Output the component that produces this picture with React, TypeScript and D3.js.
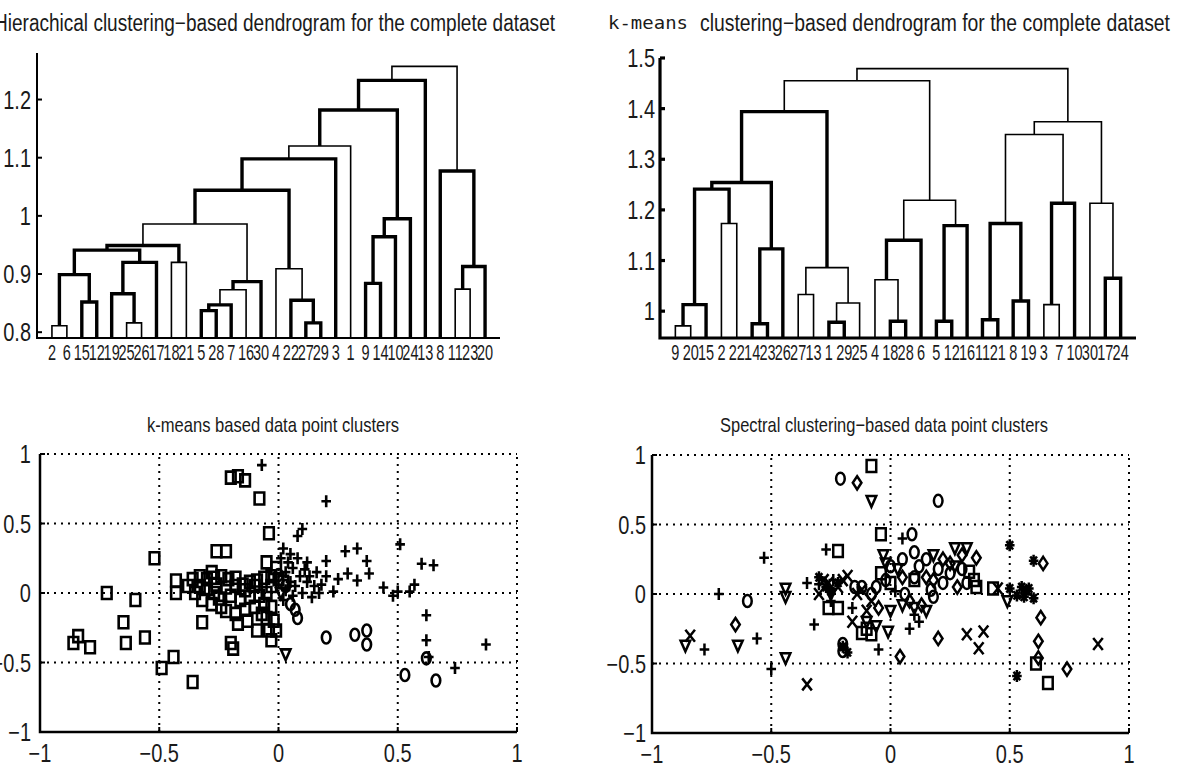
import React, { useEffect, useRef } from "react";
import * as d3 from "d3";

const sans = "'Liberation Sans', Arial, sans-serif";
const mono = "'DejaVu Sans Mono', 'Liberation Mono', monospace";

// titles
const hierTitle = "Hierachical clustering\u2212based dendrogram for the complete dataset";
const kmTitleLead = "k-means";
const kmTitleRest = "clustering\u2212based dendrogram for the complete dataset";
const kmScatterTitle = "k-means based data point clusters";
const spScatterTitle = "Spectral clustering\u2212based data point clusters";

// tick values
const hierTicks = [0.8, 0.9, 1, 1.1, 1.2];
const kmTicks = [1, 1.1, 1.2, 1.3, 1.4, 1.5];
const scatterTicks = [-1, -0.5, 0, 0.5, 1];
const gridTicks = [-0.5, 0, 0.5, 1];

// hierarchical dendrogram: leaf order + linkage rows [a, b, height]
// ids 1-30 are leaves, 31+ are the merges in row order (matlab style)
const hierLeafOrder = [2, 6, 15, 12, 19, 25, 26, 17, 18, 21, 5, 28, 7, 16, 30, 4, 22, 27, 29, 3, 1, 9, 14, 10, 24, 13, 8, 11, 23, 20];
const hierLinkage = [
  [2, 6, 0.811], [25, 26, 0.816], [27, 29, 0.816], [5, 28, 0.837], [34, 7, 0.847],
  [15, 12, 0.852], [22, 33, 0.855], [19, 32, 0.866], [35, 16, 0.873], [9, 14, 0.884],
  [39, 30, 0.887], [11, 23, 0.874], [31, 36, 0.899], [4, 37, 0.909], [42, 20, 0.913],
  [38, 17, 0.92], [18, 21, 0.92], [43, 46, 0.941], [48, 47, 0.949], [40, 10, 0.964],
  [49, 41, 0.986], [50, 24, 0.995], [51, 44, 1.044], [8, 45, 1.077], [53, 3, 1.098],
  [55, 1, 1.12], [56, 52, 1.182], [57, 13, 1.233], [58, 54, 1.257],
];
const hierBold = [33, 34, 35, 36, 37, 38, 40, 41, 43, 45, 46, 48, 49, 50, 52, 53, 54, 55, 57, 58];

// k-means dendrogram
const kmLeafOrder = [9, 20, 15, 2, 22, 14, 23, 26, 27, 13, 1, 29, 25, 4, 18, 28, 6, 5, 12, 16, 11, 21, 8, 19, 3, 7, 10, 30, 17, 24];
const kmLinkage = [
  [9, 20, 0.971], [31, 15, 1.013], [2, 22, 1.173], [32, 33, 1.241], [14, 23, 0.975],
  [35, 26, 1.123], [34, 36, 1.254], [27, 13, 1.033], [1, 29, 0.978], [39, 25, 1.016],
  [38, 40, 1.086], [37, 41, 1.394], [18, 28, 0.98], [4, 43, 1.062], [44, 6, 1.14],
  [5, 12, 0.98], [46, 16, 1.169], [45, 47, 1.219], [42, 48, 1.455], [11, 21, 0.983],
  [8, 19, 1.02], [50, 51, 1.173], [3, 7, 1.013], [53, 10, 1.213], [52, 54, 1.349],
  [17, 24, 1.065], [30, 56, 1.213], [55, 57, 1.374], [49, 58, 1.479],
];
const kmBold = [32, 34, 35, 36, 37, 39, 42, 43, 45, 46, 47, 50, 51, 52, 54, 56];

// k-means scatter clusters [x, y]
const kmSquares = [
  [-0.84, -0.31], [-0.86, -0.36], [-0.79, -0.39], [-0.72, 0.0], [-0.6, -0.05], [-0.65, -0.21],
  [-0.64, -0.36], [-0.56, -0.32], [-0.52, 0.25], [-0.49, -0.54], [-0.44, -0.46], [-0.36, -0.64],
  [-0.43, 0.09], [-0.43, 0.0], [-0.36, 0.1], [-0.33, 0.12], [-0.3, 0.1], [-0.27, 0.11],
  [-0.24, 0.12], [-0.21, 0.1], [-0.18, 0.11], [-0.33, 0.05], [-0.3, 0.03], [-0.26, 0.06],
  [-0.22, 0.04], [-0.18, 0.05], [-0.15, 0.06], [-0.12, 0.08], [-0.09, 0.09], [-0.06, 0.11],
  [-0.03, 0.12], [-0.32, -0.05], [-0.28, -0.08], [-0.25, -0.04], [-0.2, -0.02], [-0.16, -0.05],
  [-0.12, -0.03], [-0.08, -0.02], [-0.05, 0.0], [-0.03, 0.05], [-0.22, -0.13], [-0.18, -0.15],
  [-0.14, -0.12], [-0.1, -0.1], [-0.06, -0.08], [-0.03, -0.1], [-0.17, -0.22], [-0.05, -0.18],
  [-0.02, -0.2], [-0.32, -0.21], [-0.2, -0.36], [-0.19, -0.4], [-0.09, -0.27], [-0.04, -0.27],
  [-0.01, -0.27], [-0.03, -0.34], [-0.04, 0.43], [-0.26, 0.3], [-0.22, 0.3], [-0.08, 0.68],
  [-0.2, 0.83], [-0.14, 0.81], [-0.17, 0.84], [-0.01, 0.18], [-0.05, 0.22], [0.0, 0.1], [0.02, 0.08],
  [-0.35, 0.0], [-0.27, 0.0], [-0.24, -0.1], [-0.14, 0.02], [-0.1, 0.05], [-0.07, -0.15],
  [-0.13, -0.2], [-0.28, 0.15], [-0.38, 0.05],
];
const kmPluses = [
  [-0.07, 0.92], [0.2, 0.66], [0.08, 0.41], [0.1, 0.46], [0.02, 0.32], [0.05, 0.28], [0.28, 0.3],
  [0.33, 0.32], [0.37, 0.23], [0.2, 0.23], [0.51, 0.35], [0.6, 0.21], [0.65, 0.2], [0.29, 0.14],
  [0.33, 0.09], [0.23, 0.01], [0.44, 0.04], [0.5, 0.01], [0.55, 0.01], [0.57, 0.06], [0.62, -0.16],
  [0.62, -0.34], [0.87, -0.37], [0.74, -0.54], [0.63, -0.46], [0.03, 0.15], [0.06, 0.18], [0.09, 0.12],
  [0.12, 0.08], [0.15, 0.05], [0.03, 0.02], [0.07, 0.05], [0.1, 0.0], [0.14, -0.03], [0.18, 0.06],
  [0.01, 0.25], [0.04, 0.22], [0.12, 0.22], [0.16, 0.15], [0.38, 0.14], [0.48, -0.02], [0.25, 0.1],
  [0.02, -0.05], [0.06, -0.02], [0.13, 0.12], [0.08, 0.25], [0.11, 0.17], [0.17, 0.0], [0.2, 0.12],
  [0.05, 0.08],
];
const kmCircles = [
  [0.08, -0.18], [0.07, -0.12], [0.2, -0.32], [0.32, -0.3], [0.37, -0.27], [0.37, -0.37],
  [0.53, -0.59], [0.66, -0.63], [0.62, -0.47], [0.05, -0.08], [0.03, 0.05], [0.0, 0.13],
];
const kmTriangles = [[0.03, -0.44], [0.01, 0.0]];

// spectral scatter clusters [x, y]
const spPluses = [
  [-0.72, 0.0], [-0.56, -0.32], [-0.78, -0.4], [-0.5, -0.54], [-0.53, 0.26], [-0.27, 0.32],
  [0.05, 0.4], [-0.32, -0.22], [-0.3, 0.07], [-0.24, 0.1], [-0.16, -0.1], [0.08, -0.25],
  [0.1, -0.15], [-0.05, -0.4], [-0.35, 0.08], [0.02, 0.02], [-0.25, -0.05], [0.12, -0.2],
];
const spCrosses = [
  [-0.84, -0.3], [-0.35, -0.65], [0.32, -0.29], [0.39, -0.27], [0.37, -0.39], [0.87, -0.36],
  [-0.18, 0.13], [-0.28, 0.1], [-0.22, 0.05], [-0.12, 0.03], [-0.1, -0.12], [0.45, 0.04], [-0.16, -0.2],
  [-0.26, 0.08], [-0.2, 0.1], [-0.14, 0.0], [-0.08, -0.05], [-0.3, 0.0],
];
const spStars = [
  [0.5, 0.35], [0.6, 0.24], [0.53, -0.59], [0.5, 0.04], [0.53, -0.01], [0.57, 0.02], [0.55, 0.05],
  [0.6, -0.03], [-0.27, 0.05], [-0.25, 0.02], [-0.2, -0.38], [-0.3, 0.12], [-0.22, 0.08],
  [-0.18, -0.42], [0.56, -0.02], [0.58, 0.04],
];
const spCircles = [
  [-0.21, 0.83], [0.2, 0.67], [0.09, 0.43], [-0.6, -0.05], [-0.2, -0.36], [-0.2, -0.41], [0.1, 0.3],
  [0.05, 0.25], [0.12, 0.2], [0.2, 0.18], [0.25, 0.15], [0.3, 0.18], [0.22, 0.08], [-0.02, 0.1],
  [-0.06, 0.05], [0.06, 0.0], [-0.12, 0.05], [0.17, 0.03], [-0.15, 0.05], [0.0, 0.2], [0.15, 0.25],
  [0.18, -0.02], [0.32, 0.08], [-0.08, 0.0], [0.1, 0.12],
];
const spDiamonds = [
  [-0.14, 0.8], [0.64, 0.22], [0.36, 0.26], [-0.65, -0.22], [0.04, -0.45], [0.2, -0.32], [0.63, -0.17],
  [0.62, -0.34], [0.62, -0.46], [0.74, -0.54], [0.15, 0.12], [0.22, 0.25], [0.08, -0.05], [0.13, -0.08],
  [0.28, 0.05], [0.05, 0.12], [0.25, 0.22], [0.3, 0.28], [0.18, 0.1], [-0.05, -0.1],
];
const spTriangles = [
  [-0.08, 0.67], [0.27, 0.33], [0.32, 0.33], [-0.64, -0.37], [-0.86, -0.37], [-0.44, -0.46],
  [-0.44, 0.04], [-0.44, -0.02], [-0.06, -0.23], [-0.01, -0.27], [0.49, -0.05], [-0.02, 0.22],
  [0.03, 0.18], [0.1, -0.1], [0.0, -0.12], [0.18, 0.28], [-0.25, 0.0], [-0.1, -0.2], [0.05, -0.08],
  [0.15, -0.12], [0.27, 0.2], [-0.03, 0.28],
];
const spSquares = [
  [-0.08, 0.92], [-0.04, 0.43], [-0.22, 0.31], [-0.08, -0.29], [0.61, -0.5], [0.66, -0.64],
  [0.43, 0.04], [-0.26, -0.1], [-0.04, 0.15], [0.0, 0.08], [0.35, 0.1], [0.33, 0.16], [-0.1, -0.25],
  [-0.22, -0.1], [-0.12, -0.28], [0.1, 0.1], [0.36, 0.05],
];

const fmt = (v: number) => String(v).replace("-", "\u2212");

const markerPath = (type: string, r: number) => {
  const w = r * 0.8;
  switch (type) {
    case "square": return `M${-w},${-r}H${w}V${r}H${-w}Z`;
    case "plus": return `M${-w},0H${w}M0,${-r}V${r}`;
    case "x": return `M${-w},${-r}L${w},${r}M${-w},${r}L${w},${-r}`;
    case "star": {
      const d = r * 0.7;
      return `M${-w},0H${w}M0,${-r}V${r}M${-d * 0.8},${-d}L${d * 0.8},${d}M${-d * 0.8},${d}L${d * 0.8},${-d}`;
    }
    case "circle": {
      const rx = r * 0.72;
      return `M${-rx},0A${rx},${r} 0 1,0 ${rx},0A${rx},${r} 0 1,0 ${-rx},0Z`;
    }
    case "diamond": return `M0,${-r * 1.1}L${w * 0.9},0L0,${r * 1.1}L${-w * 0.9},0Z`;
    case "triangle": return `M${-w},${-r * 0.8}H${w}L0,${r}Z`;
    default: return "";
  }
};

const App = () => {
  const ref = useRef<SVGSVGElement | null>(null);

  const renderGraph = () => {
    const svg = d3.select(ref.current);
    svg.selectAll("*").remove();

    svg.append("rect").attr("width", 1181).attr("height", 767).attr("fill", "#fff");

    // narrow helvetica look: regular sans squeezed horizontally
    const squeezed = (sel: any, size: number, anchor: string, sx: number) =>
      sel.attr("text-anchor", anchor)
        .attr("font-family", sans).attr("font-size", size).attr("fill", "#1a1a1a")
        .attr("transform", `scale(${sx},1)`);

    const drawDendrogram = (order: number[], linkage: number[][], bold: number[],
      xr: number[], yDomain: number[], yRange: number[], ticks: number[], axisW: number, labelAt: number) => {
      const x = d3.scaleLinear().domain([0, order.length + 1]).range(xr);
      const y = d3.scaleLinear().domain(yDomain).range(yRange);
      const nodeX = new Map<number, number>();
      const nodeY = new Map<number, number>();
      order.forEach((leaf, i) => { nodeX.set(leaf, x(i + 1)); nodeY.set(leaf, yRange[0]); });

      const g = svg.append("g");
      linkage.forEach(([a, b, h], k) => {
        const id = order.length + 1 + k;
        const xa = nodeX.get(a)!, xb = nodeX.get(b)!;
        const yh = y(h);
        nodeX.set(id, (xa + xb) / 2);
        nodeY.set(id, yh);
        g.append("path")
          .attr("d", `M${xa},${nodeY.get(a)}V${yh}H${xb}V${nodeY.get(b)}`)
          .attr("fill", "none")
          .attr("stroke", "#000")
          .attr("stroke-width", bold.includes(id) ? 3.4 : 1.6);
      });

      // axes
      g.append("path").attr("d", `M${xr[0]},${yRange[1]}V${yRange[0]}H${xr[1]}`)
        .attr("fill", "none").attr("stroke", "#000").attr("stroke-width", axisW);
      g.selectAll(".ytick").data(ticks).join("line")
        .attr("x1", xr[0]).attr("x2", xr[0] + 5)
        .attr("y1", d => y(d)).attr("y2", d => y(d))
        .attr("stroke", "#000").attr("stroke-width", axisW);

      const yl = g.selectAll(".ylab").data(ticks).join("g")
        .attr("transform", d => `translate(${labelAt},${y(d) + 9})`);
      squeezed(yl.append("text"), 25, "end", 0.8).text((d: number) => fmt(d));

      const ll = g.selectAll(".leaf").data(order).join("g")
        .attr("transform", (d, i) => `translate(${x(i + 1)},${yRange[0] + 22})`);
      squeezed(ll.append("text"), 22, "middle", 0.66).text((d: number) => d);
    };

    const drawScatter = (series: [string, number[][]][], xr: number[], yr: number[],
      r: number, sw: number, labelAt: number) => {
      const x = d3.scaleLinear().domain([-1, 1]).range(xr);
      const y = d3.scaleLinear().domain([-1, 1]).range(yr);
      const g = svg.append("g");

      // dotted grid
      g.selectAll(".gx").data(gridTicks).join("line")
        .attr("x1", d => x(d)).attr("x2", d => x(d)).attr("y1", yr[0]).attr("y2", yr[1])
        .attr("stroke", "#000").attr("stroke-width", 2).attr("stroke-dasharray", "2,5");
      g.selectAll(".gy").data(gridTicks.map(d => -d + 0.5)).join("line")
        .attr("x1", xr[0]).attr("x2", xr[1]).attr("y1", d => y(d)).attr("y2", d => y(d))
        .attr("stroke", "#000").attr("stroke-width", 2).attr("stroke-dasharray", "2,5");

      // axes
      g.append("path").attr("d", `M${xr[0]},${yr[1]}V${yr[0]}H${xr[1]}`)
        .attr("fill", "none").attr("stroke", "#000").attr("stroke-width", 2.5);
      g.selectAll(".tx").data(scatterTicks).join("line")
        .attr("x1", d => x(d)).attr("x2", d => x(d)).attr("y1", yr[0]).attr("y2", yr[0] - 5)
        .attr("stroke", "#000").attr("stroke-width", 2);
      g.selectAll(".ty").data(scatterTicks).join("line")
        .attr("x1", xr[0]).attr("x2", xr[0] + 5).attr("y1", d => y(d)).attr("y2", d => y(d))
        .attr("stroke", "#000").attr("stroke-width", 2);

      const lx = g.selectAll(".lx").data(scatterTicks).join("g")
        .attr("transform", d => `translate(${x(d)},${yr[0] + 30})`);
      squeezed(lx.append("text"), 25, "middle", 0.8).text((d: number) => fmt(d));
      const ly = g.selectAll(".ly").data(scatterTicks).join("g")
        .attr("transform", d => `translate(${labelAt},${y(d) + 9})`);
      squeezed(ly.append("text"), 25, "end", 0.8).text((d: number) => fmt(d));

      series.forEach(([type, pts]) => {
        g.selectAll(null).data(pts).join("path")
          .attr("transform", d => `translate(${x(d[0])},${y(d[1])})`)
          .attr("d", markerPath(type, r))
          .attr("fill", "none").attr("stroke", "#000").attr("stroke-width", sw);
      });
    };

    const title = (text: string, x: number, y: number, len: number, size: number, font = sans) => {
      svg.append("text")
        .attr("x", x).attr("y", y)
        .attr("font-family", font).attr("font-size", size).attr("fill", "#1a1a1a")
        .attr("textLength", len).attr("lengthAdjust", "spacingAndGlyphs")
        .text(text);
    };

    // top row: dendrograms
    drawDendrogram(hierLeafOrder, hierLinkage, hierBold, [37, 500], [0.79, 1.28], [338, 53], hierTicks, 2, 31);
    drawDendrogram(kmLeafOrder, kmLinkage, kmBold, [660, 1136], [0.947, 1.5], [338, 58], kmTicks, 3.2, 655);

    // bottom row: scatter plots
    drawScatter([["square", kmSquares], ["plus", kmPluses], ["circle", kmCircles], ["triangle", kmTriangles]],
      [40, 517], [732, 454], 6, 2.6, 31);
    drawScatter([["plus", spPluses], ["x", spCrosses], ["star", spStars], ["circle", spCircles],
      ["diamond", spDiamonds], ["triangle", spTriangles], ["square", spSquares]],
      [652, 1129], [733, 455], 6, 2.5, 646);

    title(hierTitle, -6, 31, 561, 23);
    title(kmTitleLead, 608, 29, 80, 17, mono);
    title(kmTitleRest, 700, 31, 470, 23);
    title(kmScatterTitle, 147, 432, 252, 21);
    title(spScatterTitle, 720, 432, 328, 21);
  };

  useEffect(() => {
    renderGraph();
  });

  return (
    <svg ref={ref} width={1181} height={767}
      style={{ position: "absolute", left: 0, top: 0, display: "block" }} />
  );
};

export default App;
